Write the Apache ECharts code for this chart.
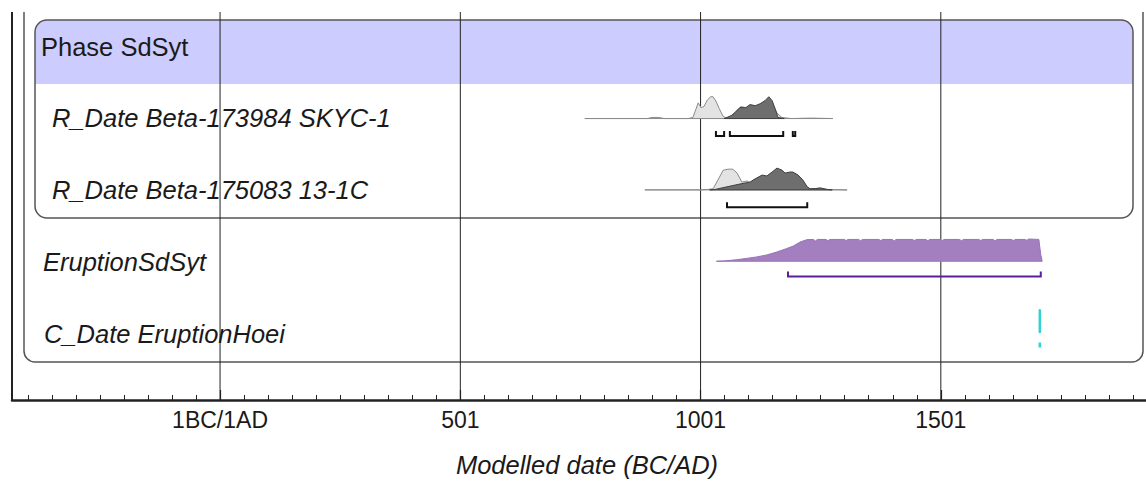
<!DOCTYPE html>
<html><head><meta charset="utf-8">
<script src="https://cdn.jsdelivr.net/npm/echarts@6/dist/echarts.min.js"></script>
<style>html,body{margin:0;padding:0;background:#fff}#c{width:1146px;height:483px}</style>
</head><body><div id="c"></div><script>
// ---------------- data ----------------
const tickValues = [1, 501, 1001, 1501];
const tickLabels = ['1BC/1AD', '501', '1001', '1501'];
const minorStep = 50;
const axisTitle = 'Modelled date (BC/AD)';
const phaseName = 'Phase SdSyt';
const rowNames = ['R_Date Beta-173984 SKYC-1', 'R_Date Beta-175083 13-1C', 'EruptionSdSyt', 'C_Date EruptionHoei'];

// [year, relative probability]
const beta173984Prior = [[760,0],[890,0],[900,0.05],[915,0.05],[925,0],[975,0],[985,0.05],[990,0.35],[996,0.72],[1002,0.5],[1008,0.55],[1015,0.85],[1022,1],[1027,1],[1033,0.8],[1040,0.45],[1048,0.1],[1055,0.02],[1065,0.1],[1075,0.36],[1085,0.55],[1095,0.5],[1105,0.52],[1115,0.6],[1125,0.6],[1135,0.78],[1143,0.92],[1150,0.7],[1160,0.25],[1170,0.05],[1190,0],[1230,0.02],[1276,0]];
const beta173984Post = [[1050,0],[1056,0.05],[1065,0.14],[1073,0.27],[1083,0.5],[1095,0.5],[1104,0.64],[1115,0.59],[1125,0.68],[1135,0.82],[1143,1],[1150,0.82],[1157,0.4],[1162,0.05],[1175,0]];
const beta173984Ranges = [[1033,1050],[1062,1173],[1193,1198]];

const beta175083Prior = [[885,0],[1000,0],[1015,0.02],[1027,0.05],[1037,0.45],[1048,0.9],[1058,0.95],[1068,0.95],[1077,0.77],[1087,0.36],[1098,0.41],[1104,0.32],[1110,0.45],[1121,0.55],[1130,0.6],[1140,0.6],[1150,0.75],[1160,0.85],[1170,0.8],[1180,0.75],[1190,0.72],[1200,0.6],[1210,0.4],[1220,0.12],[1230,0.04],[1250,0.08],[1265,0.02],[1306,0]];
const beta175083Post = [[1020,0],[1031,0.02],[1056,0.14],[1083,0.27],[1104,0.36],[1118,0.55],[1129,0.68],[1139,0.64],[1150,0.82],[1160,1],[1170,0.91],[1177,0.77],[1187,0.82],[1193,0.82],[1204,0.68],[1214,0.45],[1223,0.14],[1229,0.05],[1240,0.06],[1250,0.09],[1264,0.02],[1275,0]];
const beta175083Ranges = [[1056,1223]];

const eruptionSdSytPost = [[1034,0],[1050,0.015],[1076,0.07],[1100,0.14],[1118,0.2],[1139,0.29],[1159,0.42],[1180,0.58],[1194,0.7],[1208,0.88],[1222,0.99],[1236,1],[1240,0.93],[1244,1],[1262,1],[1266,0.94],[1270,1],[1300,1],[1304,0.95],[1308,1],[1330,1],[1334,0.94],[1338,1],[1372,1],[1376,0.95],[1380,1],[1400,1],[1404,0.93],[1408,1],[1442,1],[1446,0.95],[1450,1],[1470,1],[1474,0.94],[1478,1],[1500,1],[1504,0.95],[1508,1],[1540,1],[1544,0.94],[1548,1],[1580,1],[1584,0.95],[1588,1],[1610,1],[1614,0.93],[1618,1],[1648,1],[1652,0.95],[1656,1],[1676,1],[1680,0.96],[1684,1.02],[1705,1],[1709,0.3],[1712,0]];
const eruptionSdSytRanges = [[1183,1709]];

const eruptionHoeiDate = [[1707,0],[1707,1],[1707,0]];
const eruptionHoeiRanges = [[1707,1707]];

// ---------------- layout ----------------
const FONT = '"Liberation Sans", Arial, sans-serif';
const X_MIN = -432, X_MAX = 1928;
const Y_TOP = 12, Y_AXIS = 403.5;      // y axis in pixel-like units
const ROW0 = 47.5, ROW_STEP = 72;      // baseline of row 0 (phase header)
const DIST_H = 22;                     // max height of a distribution
const rowBase = i => ROW0 + ROW_STEP * (i + 1);
const bracketOffset = [17.5, 17.5, 15.5, 15];
const labelX = [52, 52, 43, 44];
const FS = 25.5;

const minorTicks = [];
for (let v = tickValues[0]; v >= X_MIN; v -= minorStep) minorTicks.unshift(v);
for (let v = tickValues[0] + minorStep; v <= X_MAX; v += minorStep) minorTicks.push(v);

function distSeries(points, base, fill, stroke, lw, z) {
  return {
    type: 'custom', z: z, silent: true, data: [0], clip: false,
    renderItem: (params, api) => {
      const pts = points.map(p => api.coord([p[0], base - p[1] * DIST_H]));
      pts.unshift(api.coord([points[0][0], base]));
      pts.push(api.coord([points[points.length - 1][0], base]));
      return { type: 'polygon', shape: { points: pts }, style: { fill: fill, stroke: stroke, lineWidth: lw, lineJoin: 'round' } };
    }
  };
}
function bracketSeries(ranges, y, color, lw) {
  return {
    type: 'custom', z: 4, silent: true, data: ranges.map((r, i) => i), clip: false,
    renderItem: (params, api) => {
      const r = ranges[params.dataIndex];
      const a = api.coord([r[0], y]), b = api.coord([r[1], y]);
      return { type: 'polyline', shape: { points: [[a[0], a[1] - 5], a, b, [b[0], b[1] - 5]] },
        style: { stroke: color, lineWidth: lw, fill: null } };
    }
  };
}
const gridLineSeries = {
  type: 'custom', z: 3, silent: true, data: tickValues.map((v, i) => i),
  renderItem: (params, api) => {
    const v = tickValues[params.dataIndex];
    const a = api.coord([v, Y_TOP]), b = api.coord([v, Y_AXIS]);
    return { type: 'line', shape: { x1: a[0], y1: a[1], x2: b[0], y2: b[1] }, style: { stroke: '#222', lineWidth: 1 } };
  }
};

const labelColor = '#1a1a1a';
const graphics = [
  { type: 'rect', z: 0, shape: { x: 24, y: -30, width: 1119, height: 392, r: 11 }, style: { fill: 'none', stroke: '#555', lineWidth: 1.5 } },
  { type: 'rect', z: 0, shape: { x: 35, y: 20, width: 1098, height: 64, r: [12, 12, 0, 0] }, style: { fill: '#ccccff' } },
  { type: 'rect', z: 1, shape: { x: 35, y: 20, width: 1098, height: 198, r: 12 }, style: { fill: 'none', stroke: '#555', lineWidth: 1.5 } },
  { type: 'rect', z: 100, shape: { x: 0, y: 0, width: 1146, height: Y_TOP }, style: { fill: '#fff' } },
  { type: 'text', z: 50, x: 41, y: ROW0 - 1, style: { text: phaseName, font: FS + 'px ' + FONT, fill: labelColor, textVerticalAlign: 'middle', verticalAlign: 'middle' } }
];
rowNames.forEach((n, i) => graphics.push({ type: 'text', z: 50, x: labelX[i], y: rowBase(i) - 1.5,
  style: { text: n, font: 'italic ' + FS + 'px ' + FONT, fill: labelColor, textVerticalAlign: 'middle', verticalAlign: 'middle' } }));

const option = {
  backgroundColor: '#fff',
  animation: false,
  grid: { left: 12, right: 0, top: Y_TOP, bottom: 483 - Y_AXIS },
  xAxis: [{
    type: 'value', min: X_MIN, max: X_MAX, position: 'bottom',
    axisLine: { onZero: false, lineStyle: { color: '#222', width: 2.5 } },
    axisTick: { customValues: tickValues, inside: true, length: 10, lineStyle: { color: '#222', width: 1.2 } },
    axisLabel: { customValues: tickValues, formatter: v => tickLabels[tickValues.indexOf(v)], fontSize: 23, fontFamily: FONT, color: labelColor, margin: 8 },
    splitLine: { show: false },
    name: axisTitle, nameLocation: 'middle', nameGap: 52,
    nameTextStyle: { fontSize: FS, fontStyle: 'italic', fontFamily: FONT, color: labelColor, padding: [0, 0, 0, 16] }
  }, {
    type: 'value', min: X_MIN, max: X_MAX, position: 'bottom', gridIndex: 0,
    axisLine: { show: false, onZero: false },
    axisTick: { customValues: minorTicks, inside: true, length: 5, lineStyle: { color: '#222', width: 1 } },
    axisLabel: { show: false }, splitLine: { show: false }
  }],
  yAxis: {
    type: 'value', min: Y_TOP, max: Y_AXIS, inverse: true,
    axisLine: { show: true, onZero: false, lineStyle: { color: '#222', width: 2 } },
    axisTick: { show: false }, axisLabel: { show: false }, splitLine: { show: false }
  },
  graphic: graphics,
  series: [
    gridLineSeries,
    distSeries(beta173984Prior, rowBase(0), '#e3e3e3', '#8a8a8a', 1, 5),
    distSeries(beta173984Post, rowBase(0), '#6e6e6e', '#404040', 1, 6),
    bracketSeries(beta173984Ranges, rowBase(0) + bracketOffset[0], '#111', 2),
    distSeries(beta175083Prior, rowBase(1), '#e3e3e3', '#8a8a8a', 1, 5),
    distSeries(beta175083Post, rowBase(1), '#6e6e6e', '#404040', 1, 6),
    bracketSeries(beta175083Ranges, rowBase(1) + bracketOffset[1], '#111', 2),
    distSeries(eruptionSdSytPost, rowBase(2), '#a47fc0', '#9a73b8', 1, 5),
    bracketSeries(eruptionSdSytRanges, rowBase(2) + bracketOffset[2], '#5a1f9c', 2),
    distSeries(eruptionHoeiDate, rowBase(3) - 0.5, '#30d3d3', '#30d3d3', 2.5, 5),
    bracketSeries(eruptionHoeiRanges, rowBase(3) + bracketOffset[3], '#30d3d3', 2.5)
  ]
};
const chart = echarts.init(document.getElementById('c'), null, { renderer: 'svg' });
chart.setOption(option);
</script></body></html>
